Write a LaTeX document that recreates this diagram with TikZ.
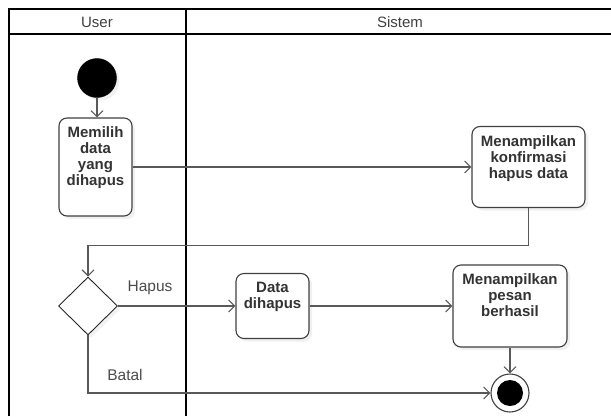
\documentclass[tikz,border=0pt]{standalone}
\usepackage{fontspec}
\setmainfont{Liberation Sans}
\usetikzlibrary{arrows.meta,shapes.geometric,shadows,positioning}

\begin{document}
\begin{tikzpicture}[x=1pt, y=-1pt,
	lane/.style={line width=2.6pt, black},
	act/.style={draw=black!75, rounded corners=8pt, line width=1.1pt, fill=white, drop shadow={opacity=0.12, shadow xshift=3pt, shadow yshift=-3pt}},
	acttext/.style={font=\fontsize{15}{16}\selectfont\bfseries, text=black!80, align=center, anchor=north, inner sep=0pt},
	flow/.style={draw=black!65, line width=1.1pt, -{Straight Barb[length=6pt, width=12pt]}},
	guard/.style={font=\fontsize{15.5}{16}\selectfont, text=black!70},
	head/.style={font=\fontsize{15}{16}\selectfont, text=black!75}]
					\useasboundingbox (0,0) rectangle (611,416);

					\draw[lane] (9,416) -- (9,9) -- (611,9);
					\draw[lane] (9,34) -- (611,34);
					\draw[lane] (186,9) -- (186,416);
					\node[head] (user) at (97,22) {User};
					\node[head] (sistem) at (400,22) {Sistem};

					\node[draw=black, fill=black, circle, minimum size=39pt, inner sep=0pt, drop shadow={opacity=0.12, shadow xshift=3pt, shadow yshift=-3pt}] (mulai) at (97,78) {};

					\node[act, minimum width=73pt, minimum height=98pt] (pilih) at (95.5,167) {};
					\node[acttext] (tpilih) at ([yshift=-9pt]pilih.north) {Memilih\\data\\yang\\dihapus};

					\node[act, minimum width=113pt, minimum height=81pt] (konfirm) at (528.5,167) {};
					\node[acttext] (tkonfirm) at ([yshift=-9pt]konfirm.north) {Menampilkan\\konfirmasi\\hapus data};

					\node[draw=black!85, fill=white, diamond, aspect=1, minimum width=59pt, minimum height=58pt, inner sep=0pt, line width=0.9pt, drop shadow={opacity=0.1, shadow xshift=3pt, shadow yshift=-3pt}] (pilihan) at (88,306) {};

					\node[act, minimum width=73pt, minimum height=65pt] (hapus) at (272.5,306) {};
					\node[acttext] (thapus) at ([yshift=-9pt]hapus.north) {Data\\dihapus};

					\node[act, minimum width=114pt, minimum height=82pt] (pesan) at (510,306) {};
					\node[acttext] (tpesan) at ([yshift=-9pt]pesan.north) {Menampilkan\\pesan\\berhasil};

					\node[draw=black!75, fill=white, circle, minimum size=38pt, inner sep=0pt, line width=1.1pt] (akhir) at (510,393) {};
					\node[fill=black, circle, minimum size=26pt, inner sep=0pt] (akhirdalam) at (akhir) {};

					\draw[flow] (mulai) -- (mulai |- pilih.north);
					\draw[flow] (pilih) -- (konfirm);
					\draw[flow] (konfirm.south) -- ++(0,37) -| (pilihan.north);
					\draw[flow] (pilihan.east) -- (hapus.west);
					\draw[flow] (hapus) -- (pesan);
					\draw[flow] (pesan) -- (akhir);
					\draw[flow] (pilihan.south) |- (akhir.west);

					\node[guard] (lhapus) at (150,288) {Hapus};
					\node[guard] (lbatal) at (125,375) {Batal};
\end{tikzpicture}
\end{document}
